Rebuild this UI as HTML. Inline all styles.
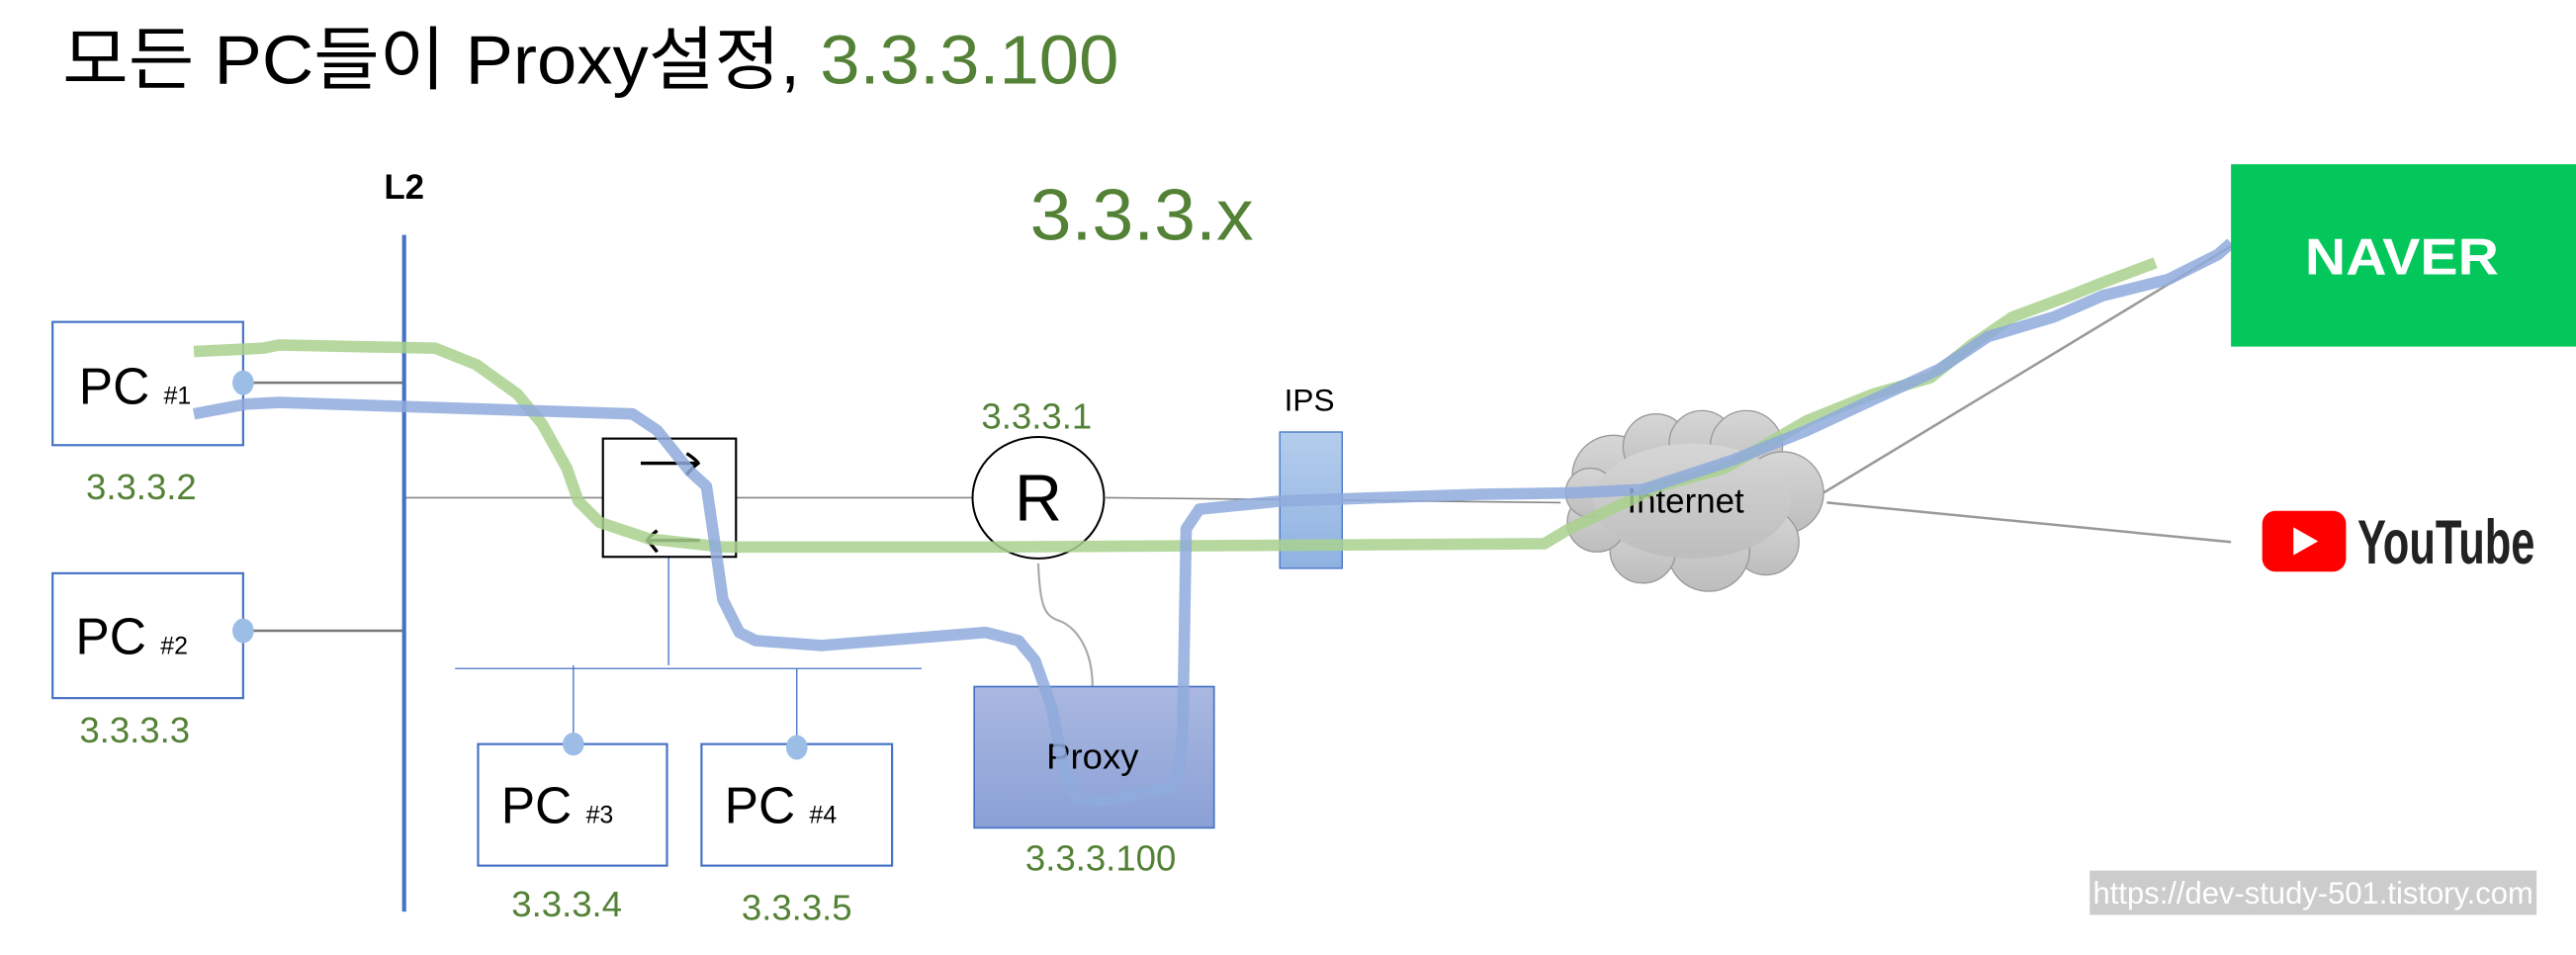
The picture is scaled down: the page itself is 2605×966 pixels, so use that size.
<!DOCTYPE html>
<html><head><meta charset="utf-8"><style>
html,body{margin:0;padding:0;background:#fff;}
svg{display:block;}
text{font-family:"Liberation Sans","Noto Sans CJK KR",sans-serif;}
</style></head><body>
<svg width="2605" height="966" viewBox="0 0 1568 581.4" preserveAspectRatio="none" xmlns="http://www.w3.org/2000/svg">
<defs>
<linearGradient id="px" x1="0" y1="0" x2="0" y2="1"><stop offset="0" stop-color="#aab8e0"/><stop offset="1" stop-color="#8aa0d6"/></linearGradient>
<linearGradient id="ips" x1="0" y1="0" x2="0" y2="1"><stop offset="0" stop-color="#b4cdec"/><stop offset="1" stop-color="#8fb2e2"/></linearGradient>
<linearGradient id="cl" x1="0" y1="0" x2="0" y2="1"><stop offset="0" stop-color="#d6d6d6"/><stop offset="1" stop-color="#bdbdbd"/></linearGradient>
</defs>
<text x="38" y="51" font-size="42" textLength="643" lengthAdjust="spacingAndGlyphs" fill="#000">모든 PC들이 Proxy설정, <tspan fill="#538135">3.3.3.100</tspan></text>
<text x="246" y="121" font-size="21" font-weight="bold" text-anchor="middle">L2</text>
<text x="695" y="146" font-size="44" fill="#538135" text-anchor="middle" textLength="136" lengthAdjust="spacingAndGlyphs">3.3.3.x</text>

<g stroke="#888" stroke-width="1" fill="none">
<line x1="246" y1="303" x2="592" y2="303"/>
<line x1="673" y1="303" x2="950" y2="306"/>
<line x1="148" y1="233" x2="246" y2="233" stroke="#777" stroke-width="1.5"/>
<line x1="148" y1="384" x2="246" y2="384" stroke="#777" stroke-width="1.5"/>
<path d="M632 343 C633 370,636 375,645 378 C655 382,665 395,665 418" stroke="#aaa" stroke-width="1.3"/>
<line x1="1110" y1="300" x2="1358" y2="150" stroke="#999" stroke-width="1.5"/>
<line x1="1112" y1="306" x2="1358" y2="330" stroke="#999" stroke-width="1.5"/>
</g>
<g stroke="#4472c4" stroke-width="0.8">
<line x1="407" y1="339" x2="407" y2="405"/>
<line x1="277" y1="407" x2="561" y2="407"/>
<line x1="349" y1="405" x2="349" y2="452"/>
<line x1="485" y1="407" x2="485" y2="454"/>
</g>
<line x1="246" y1="143" x2="246" y2="555" stroke="#4472c4" stroke-width="2.5"/>

<g fill="#fff" stroke="#4472c4" stroke-width="1.3">
<rect x="32" y="196" width="116" height="75"/>
<rect x="32" y="349" width="116" height="76"/>
<rect x="291" y="453" width="115" height="74"/>
<rect x="427" y="453" width="116" height="74"/>
</g>
<g font-size="31" fill="#000">
<text x="48" y="246">PC <tspan font-size="15">#1</tspan></text>
<text x="46" y="398">PC <tspan font-size="15">#2</tspan></text>
<text x="305" y="501">PC <tspan font-size="15">#3</tspan></text>
<text x="441" y="501">PC <tspan font-size="15">#4</tspan></text>
</g>
<g fill="#9bbde6">
<ellipse cx="148" cy="233" rx="6.5" ry="7.5"/>
<ellipse cx="148" cy="384" rx="6.5" ry="7.5"/>
<ellipse cx="349" cy="453" rx="6.5" ry="7"/>
<ellipse cx="485" cy="455" rx="6.5" ry="7.5"/>
</g>
<g font-size="22" fill="#538135" text-anchor="middle">
<text x="86" y="304">3.3.3.2</text>
<text x="82" y="452">3.3.3.3</text>
<text x="345" y="558">3.3.3.4</text>
<text x="485" y="560">3.3.3.5</text>
<text x="631" y="261">3.3.3.1</text>
<text x="670" y="530">3.3.3.100</text>
</g>

<rect x="367" y="267" width="81" height="72" fill="#fff" stroke="#000" stroke-width="1.3"/>
<g stroke="#000" stroke-width="2" fill="none">
<line x1="390" y1="282" x2="425" y2="282"/><path d="M418 276 Q424 280 425 282 Q421 285 418 289"/>
<line x1="395" y1="329" x2="426" y2="329"/><path d="M400 323 Q395 327 394 329 Q397 332 400 336"/>
</g>

<ellipse cx="632" cy="303" rx="40" ry="37" fill="#fff" stroke="#000" stroke-width="1.2"/>
<text x="632" y="317" font-size="40" text-anchor="middle">R</text>

<rect x="593" y="418" width="146" height="86" fill="url(#px)" stroke="#4472c4" stroke-width="1"/>
<text x="665" y="468" font-size="22" text-anchor="middle">Proxy</text>

<text x="797" y="250" font-size="19" text-anchor="middle">IPS</text>
<rect x="779" y="263" width="38" height="83" fill="url(#ips)" stroke="#4472c4" stroke-width="0.8"/>

<g fill="url(#cl)" stroke="#999" stroke-width="0.8">
<circle cx="982" cy="290" r="25"/><circle cx="1008" cy="272" r="20"/><circle cx="1036" cy="270" r="20"/><circle cx="1063" cy="272" r="22"/>
<circle cx="1085" cy="300" r="25"/><circle cx="1075" cy="330" r="20"/><circle cx="1040" cy="335" r="25"/><circle cx="1000" cy="335" r="20"/><circle cx="972" cy="318" r="18"/><circle cx="968" cy="300" r="15"/>
<ellipse cx="1030" cy="305" rx="60" ry="35" stroke="none"/>
</g>
<text x="1026" y="312" font-size="21" text-anchor="middle">Internet</text>

<polyline fill="none" stroke="#a9d18e" stroke-opacity="0.85" stroke-width="7" stroke-linejoin="round" points="118,214 160,212 170,210 265,212 290,222 315,240 330,258 345,285 352,305 365,318 395,328 440,333 600,333 940,331 955,322 985,308 1010,296 1050,285 1100,256 1140,240 1175,230 1200,210 1225,193 1260,180 1280,172 1312,160"/>
<polyline fill="none" stroke="#8eaadc" stroke-opacity="0.85" stroke-width="7" stroke-linejoin="round" points="118,252 150,246 170,245 385,252 400,262 420,287 430,296 435,330 440,365 450,385 460,390 500,393 600,385 620,390 630,402 640,430 648,470 655,485 670,488 690,484 712,480 718,470 720,440 722,322 730,310 780,305 900,301 960,300 1000,298 1040,285 1055,280 1100,262 1130,248 1180,225 1210,205 1250,193 1280,180 1320,170 1350,155 1358,148"/>

<rect x="1358" y="100" width="210" height="111" fill="#03c75a"/>
<text x="1462" y="167" font-size="31" font-weight="bold" fill="#fff" text-anchor="middle" textLength="118" lengthAdjust="spacingAndGlyphs">NAVER</text>

<rect x="1377" y="311" width="51" height="37" rx="8" fill="#ff0000"/>
<polygon points="1396,321 1396,338 1411,329.5" fill="#fff"/>
<text x="1435" y="343" font-size="38" font-weight="bold" fill="#222" textLength="108" lengthAdjust="spacingAndGlyphs" font-family="Liberation Sans Narrow, Liberation Sans, sans-serif">YouTube</text>

<rect x="1272" y="530" width="272" height="27" fill="#cccccc"/>
<text x="1274" y="550" font-size="19" fill="#fff" textLength="268" lengthAdjust="spacingAndGlyphs">https://dev-study-501.tistory.com</text>
</svg>
</body></html>
